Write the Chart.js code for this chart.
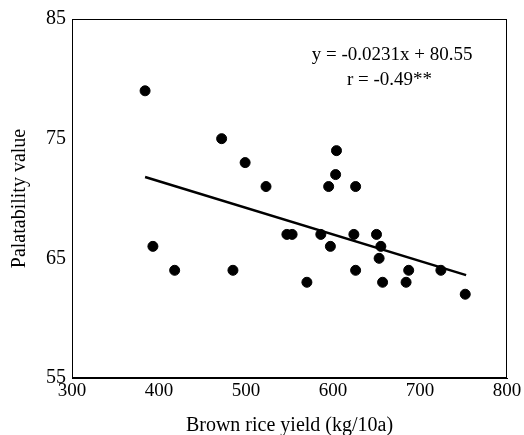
<!DOCTYPE html>
<html>
<head>
<meta charset="utf-8">
<script src="https://cdn.jsdelivr.net/npm/chart.js@4"></script>
<style>
  html, body { margin: 0; padding: 0; background: #fff; }
  #wrap { width: 524px; height: 435px; }
</style>
</head>
<body>
<div id="wrap"><canvas id="chart"></canvas></div>
<script>
// brown rice yield (kg/10a) vs palatability value
const yieldX = [384, 472, 499, 523, 547, 553, 393, 418, 485, 570,
                604, 603, 595, 626, 586, 624, 650, 597, 655, 653,
                626, 687, 724, 657, 684, 752];
const palatY = [79, 75, 73, 71, 67, 67, 66, 64, 64, 63,
                74, 72, 71, 71, 67, 67, 67, 66, 66, 65,
                64, 64, 64, 63, 63, 62];

// fitted line end points as drawn
const lineX = [384, 753];
const lineY = [71.8, 63.6];

const xTicks = [300, 400, 500, 600, 700, 800];
const yTicks = [55, 65, 75, 85];

const eqText = ['y = -0.0231x + 80.55', 'r = -0.49**'];

const serif = '"Liberation Serif", "DejaVu Serif", serif';

// frame around the plot + regression text
const framePlugin = {
    id: 'frame',
    afterDraw(chart) {
        const { ctx, chartArea: a } = chart;
        ctx.save();
        ctx.strokeStyle = '#000';
        ctx.lineWidth = 1;
        ctx.strokeRect(a.left + 0.5, a.top + 0.5, a.right - a.left - 1, a.bottom - a.top - 1);
        ctx.fillStyle = '#000';
        ctx.font = '19px ' + serif;
        ctx.textAlign = 'center';
        ctx.textBaseline = 'middle';
        const xs = chart.scales.x, ys = chart.scales.y;
        ctx.fillText(eqText[0], xs.getPixelForValue(668), ys.getPixelForValue(82.0));
        ctx.fillText(eqText[1], xs.getPixelForValue(665), ys.getPixelForValue(79.9));
        ctx.restore();
    }
};

new Chart(document.getElementById('chart'), {
    type: 'scatter',
    data: {
        datasets: [{
            label: 'line',
            type: 'line',
            data: lineX.map((x, i) => ({ x, y: lineY[i] })),
            borderColor: '#000',
            borderWidth: 2.5,
            pointRadius: 0,
            fill: false
        }, {
            label: 'samples',
            data: yieldX.map((x, i) => ({ x, y: palatY[i] })),
            backgroundColor: '#000',
            borderColor: '#000',
            pointRadius: 5,
            pointHoverRadius: 5
        }]
    },
    options: {
        responsive: true,
        maintainAspectRatio: false,
        animation: false,
        layout: { padding: { top: 19, right: 17, left: 0, bottom: 0 } },
        plugins: {
            legend: { display: false },
            tooltip: { enabled: false }
        },
        scales: {
            x: {
                type: 'linear',
                min: 300,
                max: 800,
                afterBuildTicks: (s) => { s.ticks = xTicks.map(v => ({ value: v })); },
                afterFit: (s) => { s.height = 57; },
                grid: { display: false, tickLength: 0 },
                border: { display: true, color: '#000' },
                ticks: { color: '#000', font: { family: serif, size: 19 }, padding: 2 },
                title: {
                    display: true,
                    text: 'Brown rice yield (kg/10a)',
                    color: '#000',
                    font: { family: serif, size: 20 },
                    padding: { top: 16, bottom: -3 }
                }
            },
            y: {
                type: 'linear',
                min: 55,
                max: 85,
                afterBuildTicks: (s) => { s.ticks = yTicks.map(v => ({ value: v })); },
                afterFit: (s) => { s.width = 72; },
                grid: { display: false, tickLength: 0 },
                border: { display: true, color: '#000' },
                ticks: { color: '#000', font: { family: serif, size: 20 }, padding: 6 },
                title: {
                    display: true,
                    text: 'Palatability value',
                    color: '#000',
                    font: { family: serif, size: 20 },
                    padding: { top: 8, bottom: 4 }
                }
            }
        }
    },
    plugins: [framePlugin]
});
</script>
</body>
</html>
